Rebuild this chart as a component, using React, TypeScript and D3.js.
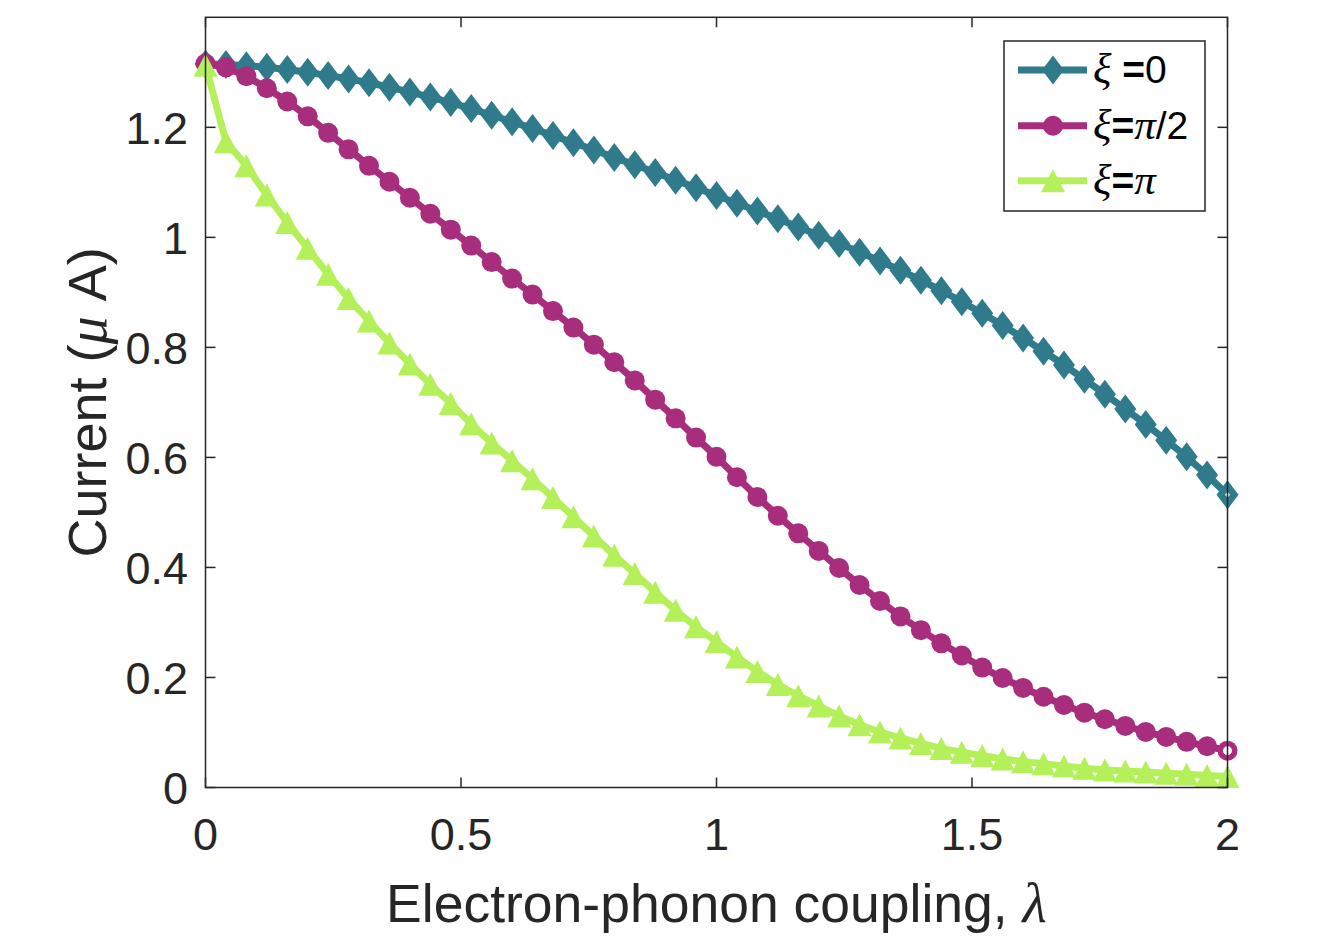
import React, { useRef, useEffect } from 'react'
import * as d3 from 'd3'

// coupling values 0..2, step 0.04 (51 points)
const lambdas: number[] = [
  0, 0.04, 0.08, 0.12, 0.16, 0.2, 0.24, 0.28, 0.32, 0.36,
  0.4, 0.44, 0.48, 0.52, 0.56, 0.6, 0.64, 0.68, 0.72, 0.76,
  0.8, 0.84, 0.88, 0.92, 0.96, 1.0, 1.04, 1.08, 1.12, 1.16,
  1.2, 1.24, 1.28, 1.32, 1.36, 1.4, 1.44, 1.48, 1.52, 1.56,
  1.6, 1.64, 1.68, 1.72, 1.76, 1.8, 1.84, 1.88, 1.92, 1.96, 2.0
]

// ξ = 0
const currentXi0: number[] = [
  1.315, 1.314, 1.312, 1.309, 1.305, 1.300, 1.294, 1.288, 1.281, 1.273,
  1.264, 1.255, 1.245, 1.234, 1.222, 1.210, 1.198, 1.185, 1.172, 1.159,
  1.145, 1.132, 1.118, 1.104, 1.090, 1.076, 1.062, 1.048, 1.034, 1.019,
  1.004, 0.989, 0.973, 0.957, 0.940, 0.922, 0.903, 0.883, 0.862, 0.840,
  0.817, 0.793, 0.768, 0.742, 0.715, 0.688, 0.660, 0.631, 0.601, 0.568, 0.532
]

// ξ = π/2
const currentXiHalfPi: number[] = [
  1.316, 1.309, 1.293, 1.271, 1.247, 1.220, 1.190, 1.160, 1.130, 1.101,
  1.072, 1.043, 1.014, 0.985, 0.955, 0.925, 0.896, 0.866, 0.836, 0.805,
  0.773, 0.740, 0.705, 0.671, 0.636, 0.601, 0.564, 0.528, 0.494, 0.462,
  0.430, 0.399, 0.368, 0.339, 0.311, 0.286, 0.262, 0.240, 0.218, 0.199,
  0.181, 0.165, 0.150, 0.136, 0.124, 0.112, 0.101, 0.092, 0.083, 0.075, 0.067
]

// ξ = π
const currentXiPi: number[] = [
  1.313, 1.174, 1.130, 1.077, 1.027, 0.980, 0.933, 0.889, 0.848, 0.808,
  0.770, 0.733, 0.698, 0.661, 0.626, 0.594, 0.561, 0.527, 0.492, 0.457,
  0.422, 0.389, 0.355, 0.322, 0.292, 0.265, 0.237, 0.211, 0.187, 0.167,
  0.148, 0.130, 0.114, 0.101, 0.090, 0.080, 0.071, 0.064, 0.058, 0.052,
  0.047, 0.043, 0.039, 0.035, 0.032, 0.030, 0.028, 0.026, 0.024, 0.022, 0.020
]

const xTicks: number[] = [0, 0.5, 1, 1.5, 2]
const yTicks: number[] = [0, 0.2, 0.4, 0.6, 0.8, 1, 1.2]

type MarkerKind = 'diamond' | 'circle' | 'triangle'

const seriesList: { key: string; values: number[]; color: string; marker: MarkerKind }[] = [
  { key: 'xi0', values: currentXi0, color: '#2F7B8C', marker: 'diamond' },
  { key: 'xiHalfPi', values: currentXiHalfPi, color: '#A82D7C', marker: 'circle' },
  { key: 'xiPi', values: currentXiPi, color: '#B4F05A', marker: 'triangle' }
]

// legend text pieces: kind 'g' = greek italic serif, 'eq' = bold equals, 't' = plain
const legendParts: { kind: 'g' | 'eq' | 't'; t: string }[][] = [
  [{ kind: 'g', t: 'ξ' }, { kind: 'eq', t: ' =' }, { kind: 't', t: '0' }],
  [{ kind: 'g', t: 'ξ' }, { kind: 'eq', t: '=' }, { kind: 'g', t: 'π' }, { kind: 't', t: '/2' }],
  [{ kind: 'g', t: 'ξ' }, { kind: 'eq', t: '=' }, { kind: 'g', t: 'π' }]
]

const W = 1339
const H = 939
const SANS = '"Liberation Sans", Arial, Helvetica, sans-serif'
const SERIF = '"Liberation Serif", "Times New Roman", serif'
const AXIS_COLOR = '#262626'

const App: React.FC = () => {
  const svgRef = useRef<SVGSVGElement>(null)

  useEffect(() => {
    if (!svgRef.current) return
    const svg = d3.select(svgRef.current)
    svg.selectAll('*').remove()

    const left = 205.5, right = 1227.5, top = 17.3, bottom = 787.5

    const x = d3.scaleLinear().domain([0, 2]).range([left, right])
    const y = d3.scaleLinear().domain([0, 1.4]).range([bottom, top])

    svg.append('rect').attr('width', W).attr('height', H).attr('fill', '#fff')

    // draw a marker shape at (cx, cy)
    const drawMarker = (g: d3.Selection<SVGGElement, unknown, null, undefined>, kind: MarkerKind, cx: number, cy: number, color: string, hollow = false) => {
      if (kind === 'diamond') {
        g.append('path')
          .attr('d', `M${cx},${cy - 14.5}L${cx + 11},${cy}L${cx},${cy + 14.5}L${cx - 11},${cy}Z`)
          .attr('fill', color)
        if (hollow) {
          g.append('path')
            .attr('d', `M${cx},${cy - 3}L${cx + 2.5},${cy}L${cx},${cy + 3}L${cx - 2.5},${cy}Z`)
            .attr('fill', '#fff')
        }
      } else if (kind === 'circle') {
        g.append('circle').attr('cx', cx).attr('cy', cy).attr('r', 10).attr('fill', color)
        if (hollow) {
          g.append('circle').attr('cx', cx).attr('cy', cy).attr('r', 4.5).attr('fill', '#fff')
        }
      } else {
        g.append('path')
          .attr('d', `M${cx},${cy - 11.5}L${cx + 12},${cy + 11.5}L${cx - 12},${cy + 11.5}Z`)
          .attr('fill', color)
      }
    }

    // series: line then markers
    const line = d3.line<number>()
      .x((_, i) => x(lambdas[i]))
      .y(d => y(d))

    seriesList.forEach(s => {
      const g = svg.append('g').attr('class', s.key)
      g.append('path')
        .attr('d', line(s.values) || '')
        .attr('fill', 'none')
        .attr('stroke', s.color)
        .attr('stroke-width', 7)
        .attr('stroke-linejoin', 'round')
      s.values.forEach((v, i) => {
        drawMarker(g, s.marker, x(lambdas[i]), y(v), s.color, i === s.values.length - 1)
      })
    })

    // axes box
    const axes = svg.append('g').attr('class', 'axes')
    axes.append('rect')
      .attr('x', left).attr('y', top)
      .attr('width', right - left).attr('height', bottom - top)
      .attr('fill', 'none')
      .attr('stroke', AXIS_COLOR)
      .attr('stroke-width', 1.5)

    const tickLen = 10
    xTicks.forEach(t => {
      const px = x(t)
      axes.append('line').attr('x1', px).attr('x2', px).attr('y1', bottom).attr('y2', bottom - tickLen)
        .attr('stroke', AXIS_COLOR).attr('stroke-width', 1.5)
      axes.append('line').attr('x1', px).attr('x2', px).attr('y1', top).attr('y2', top + tickLen)
        .attr('stroke', AXIS_COLOR).attr('stroke-width', 1.5)
      axes.append('text')
        .attr('x', px).attr('y', 850)
        .attr('text-anchor', 'middle')
        .attr('font-family', SANS).attr('font-size', 45)
        .attr('fill', AXIS_COLOR)
        .text(d3.format('~g')(t))
    })
    yTicks.forEach(t => {
      const py = y(t)
      axes.append('line').attr('x1', left).attr('x2', left + tickLen).attr('y1', py).attr('y2', py)
        .attr('stroke', AXIS_COLOR).attr('stroke-width', 1.5)
      axes.append('line').attr('x1', right).attr('x2', right - tickLen).attr('y1', py).attr('y2', py)
        .attr('stroke', AXIS_COLOR).attr('stroke-width', 1.5)
      axes.append('text')
        .attr('x', 188).attr('y', py + 16.5)
        .attr('text-anchor', 'end')
        .attr('font-family', SANS).attr('font-size', 45)
        .attr('fill', AXIS_COLOR)
        .text(d3.format('~g')(t))
    })

    // x label
    const xl = svg.append('text')
      .attr('x', (left + right) / 2).attr('y', 922)
      .attr('text-anchor', 'middle')
      .attr('font-family', SANS).attr('font-size', 53.5)
      .attr('fill', AXIS_COLOR)
    xl.append('tspan').text('Electron-phonon coupling, ')
    xl.append('tspan').attr('font-family', SERIF).attr('font-style', 'italic').attr('font-size', 56).text('λ')

    // y label
    const yl = svg.append('text')
      .attr('transform', `translate(106,${(top + bottom) / 2}) rotate(-90)`)
      .attr('text-anchor', 'middle')
      .attr('font-family', SANS).attr('font-size', 54)
      .attr('fill', AXIS_COLOR)
    yl.append('tspan').text('Current (')
    yl.append('tspan').attr('font-family', SERIF).attr('font-style', 'italic').attr('font-size', 56).text('μ')
    yl.append('tspan').text(' A)')

    // legend
    const lg = svg.append('g').attr('class', 'legend')
    lg.append('rect')
      .attr('x', 1004).attr('y', 41).attr('width', 201).attr('height', 170)
      .attr('fill', '#fff').attr('stroke', AXIS_COLOR).attr('stroke-width', 1.5)

    const legendRows = [70, 125.7, 180.7]

    seriesList.forEach((s, i) => {
      const ly = legendRows[i]
      const row = lg.append('g')
      row.append('line')
        .attr('x1', 1018).attr('x2', 1087).attr('y1', ly).attr('y2', ly)
        .attr('stroke', s.color).attr('stroke-width', 7)
      drawMarker(row, s.marker, 1053, ly, s.color)
      const txt = row.append('text')
        .attr('x', 1093).attr('y', ly + 13)
        .attr('font-family', SANS).attr('font-size', 39)
        .attr('fill', '#000')
      legendParts[i].forEach(part => {
        const sp = txt.append('tspan').text(part.t)
        if (part.kind === 'g') sp.attr('font-family', SERIF).attr('font-style', 'italic').attr('font-size', 43)
        if (part.kind === 'eq') sp.attr('font-weight', 'bold')
      })
    })
  }, [])

  return (
    <svg
      ref={svgRef}
      width={W}
      height={H}
      style={{ position: 'absolute', left: 0, top: 0, display: 'block' }}
    />
  )
}

export default App
